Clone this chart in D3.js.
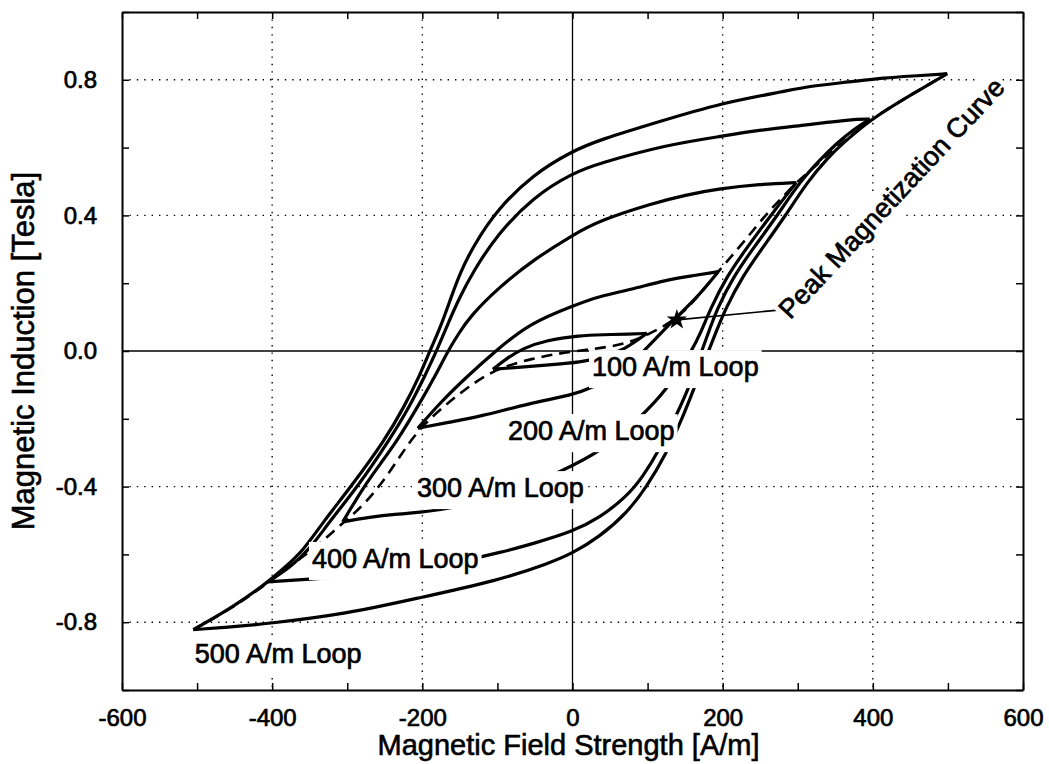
<!DOCTYPE html>
<html>
<head>
<meta charset="utf-8">
<script src="https://cdn.jsdelivr.net/npm/d3@7"></script>
<style>
  body { margin: 0; background: #fff; }
  svg text { font-family: "Liberation Sans", Arial, sans-serif; fill: #000; }
</style>
</head>
<body>
<div id="app"></div>
<script>
// hysteresis loops, [H in A/m, B in Tesla]
// "upper" = descending branch (from +tip to -tip), "lower" = ascending branch
const loop500Upper = [[499,0.818],[460,0.812],[414,0.806],[370,0.794],[312,0.78],[285,0.767],[197,0.731],[116,0.677],[36,0.623],[0,0.59],[-52,0.522],[-101,0.416],[-132,0.31],[-150,0.23],[-163,0.15],[-175,0.075],[-190,0.0],[-203,-0.07],[-224,-0.164],[-250,-0.263],[-295,-0.4],[-332,-0.504],[-359,-0.59],[-384,-0.64],[-408,-0.686],[-452,-0.755],[-505,-0.822]];
const loop500Lower = [[-505,-0.822],[-460,-0.815],[-408,-0.805],[-300,-0.775],[-208,-0.73],[-97,-0.676],[-30,-0.625],[0,-0.597],[36,-0.548],[72,-0.479],[99,-0.4],[125,-0.302],[146,-0.2],[162,-0.11],[181,0.0],[192,0.06],[203,0.121],[226,0.219],[255,0.31],[283,0.397],[313,0.5],[340,0.57],[360,0.613],[400,0.688],[450,0.755],[499,0.818]];

const loop400Upper = [[396,0.684],[370,0.683],[312,0.667],[250,0.652],[197,0.633],[125,0.608],[36,0.554],[0,0.525],[-52,0.455],[-101,0.342],[-132,0.235],[-150,0.16],[-166,0.08],[-181,0.0],[-195,-0.066],[-217,-0.164],[-244,-0.263],[-286,-0.4],[-324,-0.504],[-350,-0.585],[-377,-0.64],[-406,-0.681]];
const loop400Lower = [[-406,-0.681],[-346,-0.672],[-279,-0.664],[-210,-0.645],[-141,-0.617],[-97,-0.595],[-52,-0.568],[0,-0.533],[36,-0.492],[72,-0.43],[94,-0.37],[116,-0.29],[136,-0.2],[155,-0.11],[172,0.0],[182,0.06],[192,0.121],[214,0.219],[243,0.31],[272,0.397],[303,0.5],[330,0.565],[352,0.613],[375,0.655],[396,0.684]];

const loop300Upper = [[298,0.497],[250,0.492],[196,0.479],[150,0.46],[107,0.436],[36,0.385],[0,0.342],[-52,0.269],[-97,0.19],[-137,0.101],[-152,0.05],[-166,0.0],[-181,-0.066],[-206,-0.164],[-233,-0.263],[-255,-0.33],[-278,-0.4],[-306,-0.504]];
const loop300Lower = [[-306,-0.504],[-270,-0.49],[-235,-0.481],[-208,-0.478],[-150,-0.46],[-100,-0.43],[-60,-0.4],[-17,-0.356],[36,-0.3],[92,-0.194],[127,-0.11],[159,0.0],[172,0.06],[183,0.121],[205,0.219],[234,0.31],[263,0.397],[298,0.497]];

const loop200Upper = [[194,0.234],[160,0.222],[125,0.21],[76,0.18],[36,0.162],[0,0.133],[-57,0.082],[-101,0.003],[-141,-0.076],[-177,-0.154],[-206,-0.228]];
const loop200Lower = [[-206,-0.228],[-165,-0.21],[-124,-0.194],[-57,-0.154],[0,-0.13],[27,-0.107],[60,-0.07],[94,-0.005],[130,0.083],[165,0.155],[194,0.234]];

const loop100Upper = [[99,0.052],[76,0.05],[40,0.048],[10,0.046],[-35,0.032],[-66,0.008],[-88,-0.022],[-106,-0.054]];
const loop100Lower = [[-106,-0.054],[-70,-0.048],[-26,-0.04],[10,-0.033],[40,-0.02],[70,0.005],[99,0.052]];

// dashed peak magnetization curve through the loop tips
const peakCurve = [[-505,-0.822],[-452,-0.757],[-406,-0.684],[-380,-0.64],[-355,-0.6],[-332,-0.56],[-310,-0.515],[-283,-0.465],[-257,-0.4],[-230,-0.312],[-206,-0.233],[-170,-0.16],[-141,-0.11],[-106,-0.056],[-55,-0.022],[0,0.0],[60,0.013],[99,0.045],[139,0.094],[165,0.155],[192,0.229],[219,0.298],[241,0.357],[263,0.416],[285,0.466],[298,0.497],[321,0.539],[343,0.588],[365,0.623],[396,0.682],[450,0.755],[499,0.818]];
const peakStar = [139, 0.092];

const xTicks = [-600,-500,-400,-300,-200,-100,0,100,200,300,400,500,600];
const xTickLabels = ["-600","","-400","","-200","","0","","200","","400","","600"];
const yTicks = [-1,-0.8,-0.6,-0.4,-0.2,0,0.2,0.4,0.6,0.8,1];
const yTickLabels = ["","-0.8","","-0.4","","0.0","","0.4","","0.8",""];
const xGrid = [-400,-200,200,400];
const yGrid = [-0.8,-0.4,0.4,0.8];

const loopLabels = ["100 A/m Loop","200 A/m Loop","300 A/m Loop","400 A/m Loop","500 A/m Loop"];
const loopLabelAt = [[26,-0.074],[-86,-0.263],[-207,-0.431],[-347,-0.64],[-503,-0.92]];
const peakLabel = "Peak Magnetization Curve";
const peakLabelAt = [290, 0.091];

const xTitle = "Magnetic Field Strength [A/m]";
const yTitle = "Magnetic Induction [Tesla]";

const appW = 1049, appH = 764;
const box = { l: 122, r: 1023, t: 12, b: 690 };

const svg = d3.select("#app").append("svg")
    .attr("width", appW)
    .attr("height", appH)
    .style("display", "block");

const xScale = d3.scaleLinear().domain([-600, 600]).range([box.l, box.r]);
const yScale = d3.scaleLinear().domain([-1, 1]).range([box.b, box.t]);

// dotted grid
svg.append("g").selectAll("line").data(xGrid).enter().append("line")
    .attr("x1", d => xScale(d)).attr("x2", d => xScale(d))
    .attr("y1", box.t).attr("y2", box.b)
    .attr("stroke", "#000").attr("stroke-width", 1.4)
    .attr("stroke-dasharray", "1.4,6");
svg.append("g").selectAll("line").data(yGrid).enter().append("line")
    .attr("y1", d => yScale(d)).attr("y2", d => yScale(d))
    .attr("x1", box.l).attr("x2", box.r)
    .attr("stroke", "#000").attr("stroke-width", 1.4)
    .attr("stroke-dasharray", "1.4,6");

// zero axes
svg.append("line")
    .attr("x1", xScale(0)).attr("x2", xScale(0)).attr("y1", box.t).attr("y2", box.b)
    .attr("stroke", "#000").attr("stroke-width", 1.3);
svg.append("line")
    .attr("y1", yScale(0)).attr("y2", yScale(0)).attr("x1", box.l).attr("x2", box.r)
    .attr("stroke", "#000").attr("stroke-width", 1.3);

// basis keeps the end points (the sharp loop tips) and smooths the reading jitter
const line = d3.line()
    .x(d => xScale(d[0]))
    .y(d => yScale(d[1]))
    .curve(d3.curveBasis);

const branches = [loop500Upper, loop500Lower, loop400Upper, loop400Lower, loop300Upper, loop300Lower,
                  loop200Upper, loop200Lower, loop100Upper, loop100Lower];

svg.append("g").attr("id", "loops").selectAll("path")
    .data(branches).enter().append("path")
    .attr("d", line)
    .attr("fill", "none")
    .attr("stroke", "#000")
    .attr("stroke-width", 3.2)
    .attr("stroke-linejoin", "round");

svg.append("path")
    .attr("d", line(peakCurve))
    .attr("fill", "none")
    .attr("stroke", "#000")
    .attr("stroke-width", 2.6)
    .attr("stroke-dasharray", "11,7");

// pointer from the star to the rotated label
svg.append("line")
    .attr("x1", xScale(peakStar[0])).attr("y1", yScale(peakStar[1]))
    .attr("x2", xScale(peakLabelAt[0]) - 12).attr("y2", yScale(peakLabelAt[1]) - 10)
    .attr("stroke", "#000").attr("stroke-width", 1.7);

svg.append("path")
    .attr("d", d3.symbol().type(d3.symbolStar).size(130))
    .attr("transform", "translate(" + xScale(peakStar[0]) + "," + yScale(peakStar[1]) + ")")
    .attr("fill", "#000");

// labels sit on white boxes that hide the lines under them
function addLabel(txt, at, angle) {
    const g = svg.append("g")
        .attr("transform", "translate(" + xScale(at[0]) + "," + yScale(at[1]) + ")" + (angle ? " rotate(" + angle + ")" : ""));
    const t = g.append("text")
        .attr("font-size", 27)
        .attr("stroke", "#000").attr("stroke-width", 0.7)
        .text(txt);
    const bb = t.node().getBBox();
    g.insert("rect", "text")
        .attr("x", bb.x - 3).attr("y", bb.y - 2)
        .attr("width", bb.width + 6).attr("height", bb.height + 8)
        .attr("fill", "#fff");
}
loopLabels.forEach((txt, i) => addLabel(txt, loopLabelAt[i], 0));
addLabel(peakLabel, peakLabelAt, -47);

// frame with inward ticks
const tickFont = g => g.attr("font-family", "Liberation Sans, Arial, sans-serif").attr("font-size", 24);

svg.append("g")
    .attr("transform", "translate(0," + box.b + ")")
    .call(d3.axisBottom(xScale).tickValues(xTicks).tickFormat((d, i) => xTickLabels[i])
        .tickSizeInner(-7).tickSizeOuter(0).tickPadding(19))
    .call(tickFont);
svg.append("g")
    .attr("transform", "translate(0," + box.t + ")")
    .call(d3.axisTop(xScale).tickValues(xTicks).tickFormat("").tickSizeInner(-7).tickSizeOuter(0));
svg.append("g")
    .attr("transform", "translate(" + box.l + ",0)")
    .call(d3.axisLeft(yScale).tickValues(yTicks).tickFormat((d, i) => yTickLabels[i])
        .tickSizeInner(-7).tickSizeOuter(0).tickPadding(25))
    .call(tickFont);
svg.append("g")
    .attr("transform", "translate(" + box.r + ",0)")
    .call(d3.axisRight(yScale).tickValues(yTicks).tickFormat("").tickSizeInner(-7).tickSizeOuter(0));

svg.selectAll(".domain").attr("stroke-width", 2);
svg.selectAll(".tick line").attr("stroke-width", 1.5);
svg.selectAll(".tick text").attr("stroke", "#000").attr("stroke-width", 0.7);

// axis titles
svg.append("text")
    .attr("x", (box.l + box.r) / 2 - 4)
    .attr("y", 755)
    .attr("text-anchor", "middle")
    .attr("font-size", 29)
    .attr("stroke", "#000").attr("stroke-width", 0.6)
    .text(xTitle);
svg.append("text")
    .attr("transform", "translate(34," + yScale(0) + ") rotate(-90)")
    .attr("text-anchor", "middle")
    .attr("font-size", 31)
    .attr("stroke", "#000").attr("stroke-width", 0.6)
    .text(yTitle);
</script>
</body>
</html>
